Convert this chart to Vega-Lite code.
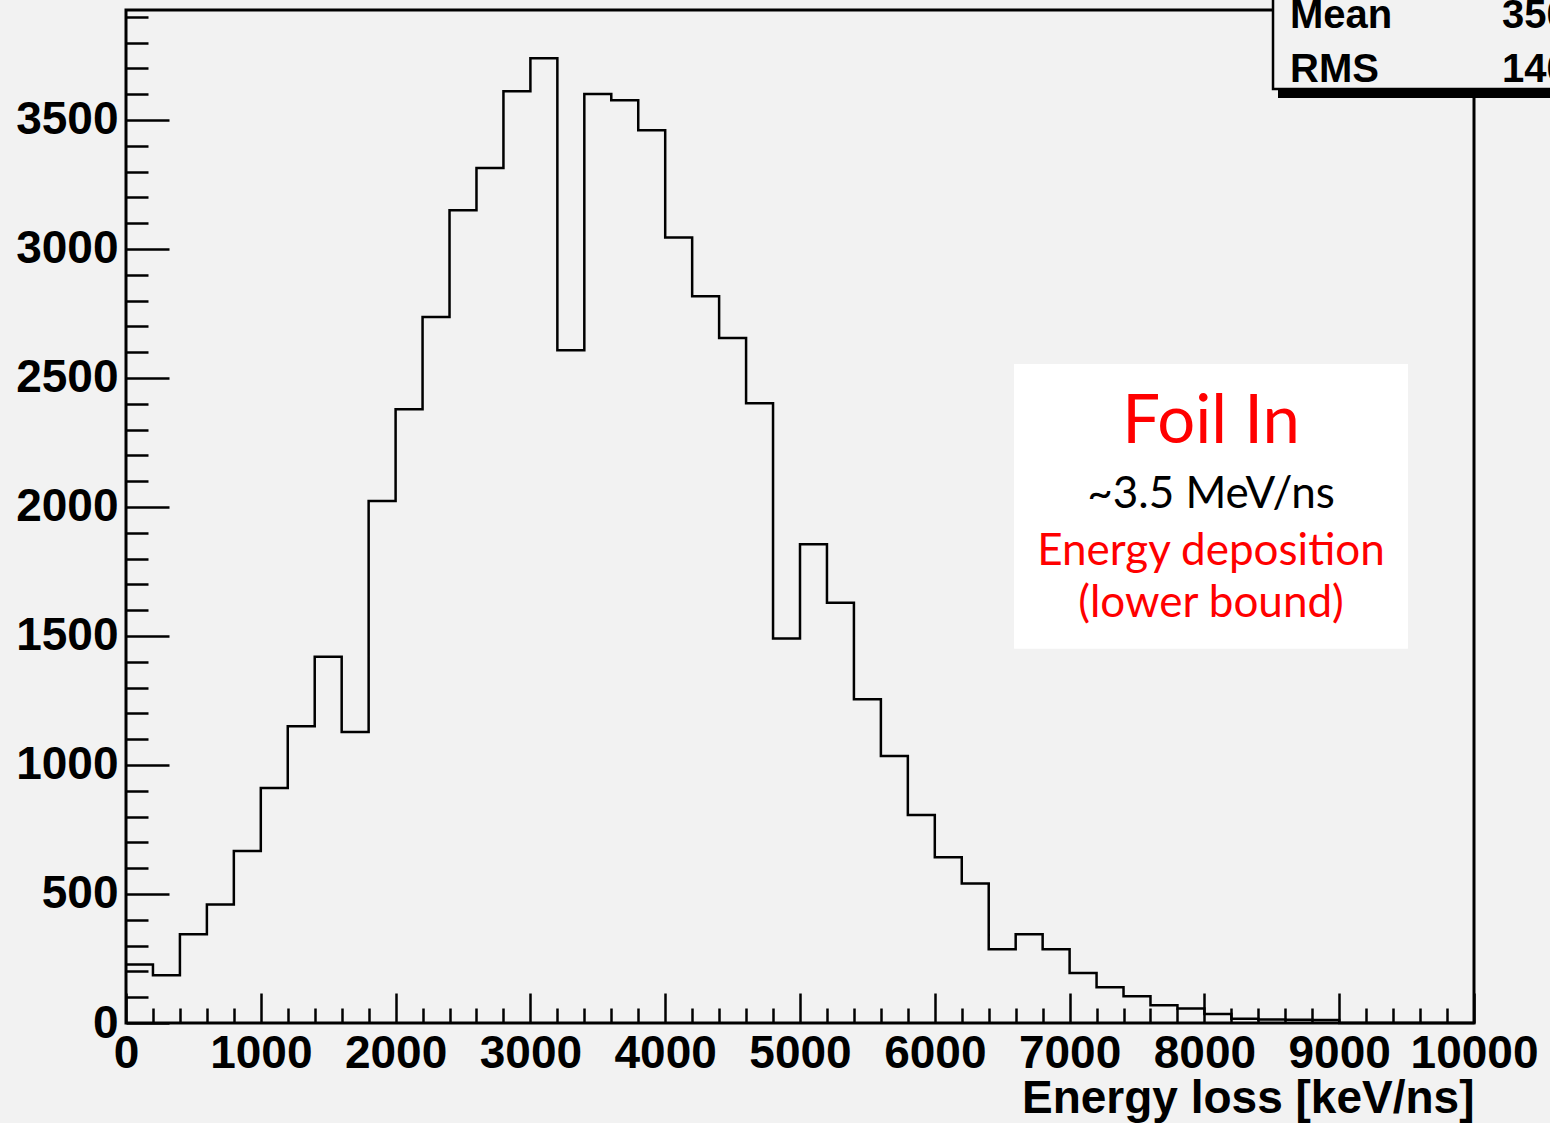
{
  "$schema": "https://vega.github.io/schema/vega-lite/v6.json",
  "autosize": "none",
  "width": 1348,
  "height": 1013,
  "padding": {"left": 126, "top": 10, "right": 76, "bottom": 100},
  "background": "#f2f2f2",
  "view": {"stroke": "#000000", "strokeWidth": 3, "fill": null},
  "datasets": {
    "hist": [
      {"energy": 0, "count": 227},
      {"energy": 200, "count": 185},
      {"energy": 400, "count": 344},
      {"energy": 600, "count": 459},
      {"energy": 800, "count": 667},
      {"energy": 1000, "count": 911},
      {"energy": 1200, "count": 1150},
      {"energy": 1400, "count": 1419},
      {"energy": 1600, "count": 1128},
      {"energy": 1800, "count": 2023},
      {"energy": 2000, "count": 2379},
      {"energy": 2200, "count": 2736},
      {"energy": 2400, "count": 3150},
      {"energy": 2600, "count": 3314},
      {"energy": 2800, "count": 3611},
      {"energy": 3000, "count": 3739},
      {"energy": 3200, "count": 2607},
      {"energy": 3400, "count": 3600},
      {"energy": 3600, "count": 3576},
      {"energy": 3800, "count": 3460},
      {"energy": 4000, "count": 3044},
      {"energy": 4200, "count": 2817},
      {"energy": 4400, "count": 2655},
      {"energy": 4600, "count": 2402},
      {"energy": 4800, "count": 1490},
      {"energy": 5000, "count": 1855},
      {"energy": 5200, "count": 1629},
      {"energy": 5400, "count": 1255},
      {"energy": 5600, "count": 1035},
      {"energy": 5800, "count": 806},
      {"energy": 6000, "count": 642},
      {"energy": 6200, "count": 541},
      {"energy": 6400, "count": 286},
      {"energy": 6600, "count": 344},
      {"energy": 6800, "count": 286},
      {"energy": 7000, "count": 194},
      {"energy": 7200, "count": 139},
      {"energy": 7400, "count": 104},
      {"energy": 7600, "count": 69},
      {"energy": 7800, "count": 56},
      {"energy": 8000, "count": 35},
      {"energy": 8200, "count": 16},
      {"energy": 8400, "count": 14},
      {"energy": 8600, "count": 13},
      {"energy": 8800, "count": 12},
      {"energy": 9000, "count": 0},
      {"energy": 9200, "count": 0},
      {"energy": 9400, "count": 0},
      {"energy": 9600, "count": 0},
      {"energy": 9800, "count": 0},
      {"energy": 10000, "count": 0}
    ]
  },
  "resolve": {"axis": {"x": "independent", "y": "independent"}},
  "layer": [
    {
      "data": {"name": "hist"},
      "mark": {"type": "line", "interpolate": "step-after", "color": "#000000", "strokeWidth": 2.5},
      "encoding": {
        "x": {
          "field": "energy", "type": "quantitative",
          "scale": {"domain": [0, 10000], "nice": false, "zero": false},
          "axis": {
            "orient": "bottom",
            "values": [0, 1000, 2000, 3000, 4000, 5000, 6000, 7000, 8000, 9000, 10000],
            "format": "d", "ticks": false, "domain": false, "grid": false,
            "labelFont": "Liberation Sans", "labelFontWeight": "bold", "labelFontSize": 46,
            "labelColor": "#000000", "labelPadding": 8, "labelFlush": false, "labelOverlap": false,
            "labelBaseline": "top",
            "title": "Energy loss [keV/ns]",
            "titleFont": "Liberation Sans", "titleFontWeight": "bold", "titleFontSize": 46,
            "titleColor": "#000000", "titleAnchor": "end", "titleAlign": "right",
            "titleBaseline": "top", "titlePadding": 0
          }
        },
        "y": {
          "field": "count", "type": "quantitative",
          "scale": {"domain": [0, 3926], "nice": false, "zero": false},
          "axis": {
            "orient": "left",
            "values": [0, 500, 1000, 1500, 2000, 2500, 3000, 3500],
            "format": "d", "ticks": false, "domain": false, "grid": false,
            "labelFont": "Liberation Sans", "labelFontWeight": "bold", "labelFontSize": 46,
            "labelColor": "#000000", "labelPadding": 8, "labelFlush": false, "labelOverlap": false,
            "title": null
          }
        }
      }
    },
    {
      "data": {"name": "hist"},
      "mark": {"type": "point", "opacity": 0},
      "encoding": {
        "x": {
          "field": "energy", "type": "quantitative",
          "scale": {"domain": [0, 10000], "nice": false, "zero": false},
          "axis": {
            "orient": "bottom",
            "values": [0, 1000, 2000, 3000, 4000, 5000, 6000, 7000, 8000, 9000, 10000],
            "labels": false, "domain": false, "grid": false, "title": null,
            "ticks": true, "tickSize": -30, "tickWidth": 2.5, "tickColor": "#000000"
          }
        },
        "y": {
          "field": "count", "type": "quantitative",
          "scale": {"domain": [0, 3926], "nice": false, "zero": false},
          "axis": {
            "orient": "left",
            "values": [0, 500, 1000, 1500, 2000, 2500, 3000, 3500],
            "labels": false, "domain": false, "grid": false, "title": null,
            "ticks": true, "tickSize": -43, "tickWidth": 2.5, "tickColor": "#000000"
          }
        }
      }
    },
    {
      "data": {"name": "hist"},
      "mark": {"type": "point", "opacity": 0},
      "encoding": {
        "x": {
          "field": "energy", "type": "quantitative",
          "scale": {"domain": [0, 10000], "nice": false, "zero": false},
          "axis": {
            "orient": "bottom",
            "values": [200, 400, 600, 800, 1200, 1400, 1600, 1800, 2200, 2400, 2600, 2800, 3200, 3400, 3600, 3800, 4200, 4400, 4600, 4800, 5200, 5400, 5600, 5800, 6200, 6400, 6600, 6800, 7200, 7400, 7600, 7800, 8200, 8400, 8600, 8800, 9200, 9400, 9600, 9800],
            "labels": false, "domain": false, "grid": false, "title": null,
            "ticks": true, "tickSize": -15, "tickWidth": 2.5, "tickColor": "#000000"
          }
        },
        "y": {
          "field": "count", "type": "quantitative",
          "scale": {"domain": [0, 3926], "nice": false, "zero": false},
          "axis": {
            "orient": "left",
            "values": [100, 200, 300, 400, 600, 700, 800, 900, 1100, 1200, 1300, 1400, 1600, 1700, 1800, 1900, 2100, 2200, 2300, 2400, 2600, 2700, 2800, 2900, 3100, 3200, 3300, 3400, 3600, 3700, 3800, 3900],
            "labels": false, "domain": false, "grid": false, "title": null,
            "ticks": true, "tickSize": -22, "tickWidth": 2.5, "tickColor": "#000000"
          }
        }
      }
    },
    {
      "data": {"values": [{"label": "box"}]},
      "mark": {"type": "rect", "fill": "#ffffff", "stroke": null},
      "encoding": {
        "x": {"datum": 6588, "type": "quantitative", "axis": null},
        "x2": {"datum": 9510},
        "y": {"datum": 2554, "type": "quantitative", "axis": null},
        "y2": {"datum": 1450}
      }
    },
    {
      "data": {"values": [{"label": "Foil In"}]},
      "mark": {"type": "text", "font": "Lato", "fontSize": 67, "color": "#ff0000", "align": "center", "baseline": "alphabetic"},
      "encoding": {
        "x": {"datum": 8049, "type": "quantitative", "axis": null},
        "y": {"datum": 2248, "type": "quantitative", "axis": null},
        "text": {"field": "label"}
      }
    },
    {
      "data": {"values": [{"label": "~3.5 MeV/ns"}]},
      "mark": {"type": "text", "font": "Lato", "fontSize": 44, "color": "#000000", "align": "center", "baseline": "alphabetic"},
      "encoding": {
        "x": {"datum": 8049, "type": "quantitative", "axis": null},
        "y": {"datum": 1996, "type": "quantitative", "axis": null},
        "text": {"field": "label"}
      }
    },
    {
      "data": {"values": [{"label": "Energy deposition"}]},
      "mark": {"type": "text", "font": "Lato", "fontSize": 44, "color": "#ff0000", "align": "center", "baseline": "alphabetic"},
      "encoding": {
        "x": {"datum": 8049, "type": "quantitative", "axis": null},
        "y": {"datum": 1775, "type": "quantitative", "axis": null},
        "text": {"field": "label"}
      }
    },
    {
      "data": {"values": [{"label": "(lower bound)"}]},
      "mark": {"type": "text", "font": "Lato", "fontSize": 44, "color": "#ff0000", "align": "center", "baseline": "alphabetic"},
      "encoding": {
        "x": {"datum": 8049, "type": "quantitative", "axis": null},
        "y": {"datum": 1574, "type": "quantitative", "axis": null},
        "text": {"field": "label"}
      }
    },
    {
      "data": {"values": [{"label": "shadow"}]},
      "mark": {"type": "rect", "fill": "#000000", "stroke": null},
      "encoding": {
        "x": {"datum": 8546, "type": "quantitative", "axis": null},
        "x2": {"datum": 10800},
        "y": {"datum": 3620, "type": "quantitative", "axis": null},
        "y2": {"datum": 3585}
      }
    },
    {
      "data": {"values": [{"label": "stats"}]},
      "mark": {"type": "rect", "fill": "#f2f2f2", "stroke": "#000000", "strokeWidth": 2.5},
      "encoding": {
        "x": {"datum": 8509, "type": "quantitative", "axis": null},
        "x2": {"datum": 10800},
        "y": {"datum": 3620, "type": "quantitative", "axis": null},
        "y2": {"datum": 3990}
      }
    },
    {
      "data": {"values": [{"name": "Mean", "val": "3507"}, {"name": "RMS", "val": "1402"}]},
      "transform": [{"calculate": "datum.name === 'Mean' ? 3857 : 3647", "as": "ypos"}],
      "layer": [
        {
          "mark": {"type": "text", "font": "Liberation Sans", "fontWeight": "bold", "fontSize": 40, "color": "#000000", "align": "left", "baseline": "alphabetic"},
          "encoding": {
            "x": {"datum": 8635, "type": "quantitative", "axis": null},
            "y": {"field": "ypos", "type": "quantitative", "axis": null},
            "text": {"field": "name"}
          }
        },
        {
          "mark": {"type": "text", "font": "Liberation Sans", "fontWeight": "bold", "fontSize": 40, "color": "#000000", "align": "left", "baseline": "alphabetic"},
          "encoding": {
            "x": {"datum": 10208, "type": "quantitative", "axis": null},
            "y": {"field": "ypos", "type": "quantitative", "axis": null},
            "text": {"field": "val"}
          }
        }
      ]
    }
  ]
}
